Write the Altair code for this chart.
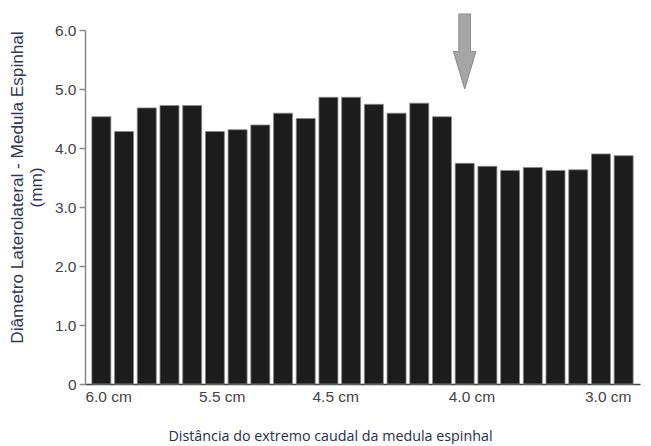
import altair as alt
import pandas as pd

# Bar values (mm), left to right
values = [4.53, 4.28, 4.68, 4.72, 4.72, 4.28, 4.31, 4.39, 4.59, 4.50, 4.86, 4.86,
          4.74, 4.59, 4.76, 4.53, 3.74, 3.69, 3.62, 3.67, 3.62, 3.63, 3.90, 3.87]
positions = list(range(len(values)))

# X tick labels and where they sit (in bar-index units)
tick_pos = [0.3, 5.3, 10.3, 16.3, 22.3]
tick_labels = ["6.0 cm", "5.5 cm", "4.5 cm", "4.0 cm", "3.0 cm"]

# Arrow annotation (bar index, vertical centre in mm units)
arrow_pos = [16]
arrow_y = [5.636]

y_ticks = [0, 1, 2, 3, 4, 5, 6]

bars_df = pd.DataFrame({"pos": positions, "value": values})
arrow_df = pd.DataFrame({"pos": arrow_pos, "y": arrow_y})

# label expression built from lists
expr = "''"
for p, lab in reversed(list(zip(tick_pos, tick_labels))):
    expr = f"abs(datum.value - {p}) < 0.05 ? '{lab}' : ({expr})"

x_scale = alt.Scale(domain=[-0.5, 23.5], nice=False, zero=False)
y_scale = alt.Scale(domain=[0, 6], nice=False)

bars = alt.Chart(bars_df).mark_bar(
    width=19, color="#1c1c1c", stroke="#8a8a8a", strokeWidth=0.8
).encode(
    x=alt.X("pos:Q", scale=x_scale,
            axis=alt.Axis(values=tick_pos, labelExpr=expr, ticks=False, grid=False,
                          domainColor="#444444", domainWidth=1.5,
                          labelFont="Liberation Sans", labelFontSize=15.5,
                          labelColor="#444444", labelPadding=5,
                          title="Distância do extremo caudal da medula espinhal",
                          titleFont="Open Sans", titleFontSize=14.3, titleFontWeight="normal",
                          titleColor="#22304f", titleX=245, titleY=52,
                          titleBaseline="middle", titleAnchor="start", titleAlign="center")),
    y=alt.Y("value:Q", scale=y_scale,
            axis=alt.Axis(values=y_ticks, grid=False,
                          labelExpr="datum.value == 0 ? '0' : format(datum.value, '.1f')",
                          tickSize=6, tickColor="#888888", tickWidth=1.5,
                          domainColor="#888888", domainWidth=1.5,
                          labelFont="Liberation Sans", labelFontSize=15.5,
                          labelColor="#444444", labelPadding=3,
                          title=["Diâmetro Laterolateral - Medula Espinhal", "(mm)"],
                          titleFont="Liberation Sans", titleFontSize=17.2,
                          titleFontWeight="normal", titleColor="#2e3656",
                          titleLineHeight=19, titleX=-68, titleY=157,
                          titleAngle=270, titleBaseline="middle", titleAlign="center")),
)

arrow_shape = "M-0.156,-1L0.156,-1L0.156,0L0.30,0L0,1L-0.30,0L-0.156,0Z"
arrow = alt.Chart(arrow_df).mark_point(
    shape=arrow_shape, size=5625, filled=True, fill="#a6a6a6",
    stroke="#8c8c8c", strokeWidth=1, opacity=1, clip=False
).encode(
    x=alt.X("pos:Q", scale=x_scale),
    y=alt.Y("y:Q", scale=y_scale),
)

chart = alt.layer(bars, arrow).properties(
    width=555, height=354,
    autosize=alt.AutoSizeParams(type="none"),
    padding={"left": 77, "top": 22, "right": 3, "bottom": 60},
).configure(background="white", view=alt.ViewConfig(stroke=None))

chart.save("out.html", embed_options={"renderer": "svg", "actions": False})
